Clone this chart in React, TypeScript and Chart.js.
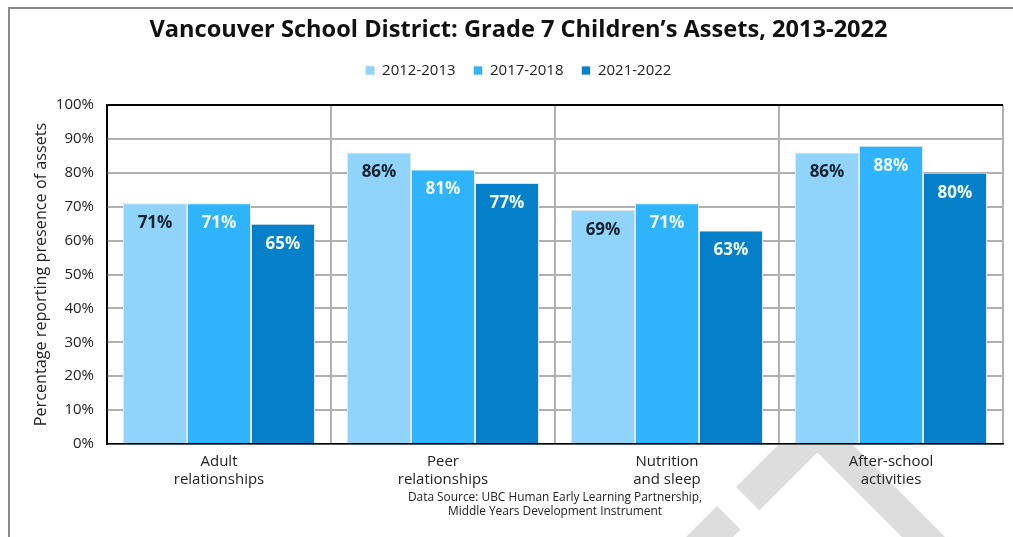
import React, { useEffect, useRef } from 'react';
import { Chart, registerables } from 'chart.js';

Chart.register(...registerables);

const chartTitle = 'Vancouver School District: Grade 7 Children\u2019s Assets, 2013-2022';
const categories = [
  ['Adult', 'relationships'],
  ['Peer', 'relationships'],
  ['Nutrition', 'and sleep'],
  ['After-school', 'activities'],
];
const seriesNames = ['2012-2013', '2017-2018', '2021-2022'];
const values2012 = [71, 86, 69, 86];
const values2017 = [71, 81, 71, 88];
const values2021 = [65, 77, 63, 80];
const seriesColors = ['#90d4fb', '#2fb4fb', '#0680c8'];
const labelColors = ['#16222e', '#eef8ff', '#eef8ff'];
const yAxisTitle = 'Percentage reporting presence of assets';
const sourceLines = ['Data Source: UBC Human Early Learning Partnership,', 'Middle Years Development Instrument'];

const FONT = "'Open Sans', 'DejaVu Sans', sans-serif";

const watermarkPlugin = {
  id: 'watermark',
  beforeDraw(chart: any) {
    const { ctx, chartArea } = chart;
    ctx.save();
    ctx.fillStyle = '#dddddd';
    ctx.beginPath();
    ctx.moveTo(736, 487);
    ctx.lineTo(815.5, 407.5);
    ctx.lineTo(945, 537);
    ctx.lineTo(902, 537);
    ctx.lineTo(817.5, 452.5);
    ctx.lineTo(759.5, 510.5);
    ctx.closePath();
    ctx.fill();
    ctx.beginPath();
    ctx.moveTo(717, 506);
    ctx.lineTo(740.5, 529.5);
    ctx.lineTo(733, 537);
    ctx.lineTo(686, 537);
    ctx.closePath();
    ctx.fill();
    ctx.fillStyle = '#ffffff';
    ctx.fillRect(chartArea.left, chartArea.top, chartArea.right - chartArea.left, chartArea.bottom - chartArea.top);
    ctx.restore();
  },
};

const valueLabelPlugin = {
  id: 'valueLabels',
  afterDatasetsDraw(chart: any) {
    const { ctx } = chart;
    ctx.save();
    ctx.font = `bold 17px ${FONT}`;
    ctx.textAlign = 'center';
    ctx.textBaseline = 'middle';
    chart.data.datasets.forEach((ds: any, di: number) => {
      const meta = chart.getDatasetMeta(di);
      meta.data.forEach((bar: any, i: number) => {
        ctx.fillStyle = labelColors[di];
        ctx.fillText(`${ds.data[i]}%`, bar.x, bar.y + 20);
      });
    });
    ctx.restore();
  },
};

export default function App() {
  const ref = useRef<HTMLCanvasElement | null>(null);

  useEffect(() => {
    if (!ref.current) return;
    const series = [values2012, values2017, values2021];
    const chart = new Chart(ref.current, {
      type: 'bar',
      data: {
        labels: categories,
        datasets: series.map((vals, i) => ({
          label: seriesNames[i],
          data: vals,
          backgroundColor: seriesColors[i],
          borderColor: '#dde6ec',
          borderWidth: 1,
          categoryPercentage: 0.857,
          barPercentage: 1.0,
        })),
      },
      options: {
        responsive: false,
        animation: false,
        layout: { padding: { left: 24, right: 0, top: 0, bottom: 18 } },
        plugins: {
          title: {
            display: true,
            text: chartTitle,
            color: '#111111',
            font: { family: FONT, size: 23.6, weight: 'bold', lineHeight: 1.2 },
            padding: { top: 16, bottom: 0.7 },
          },
          subtitle: {
            display: true,
            text: '',
            position: 'top',
            weight: 500,
            font: { size: 10, lineHeight: 1 },
            padding: { top: 7, bottom: 0 },
          },
          legend: {
            display: true,
            position: 'top',
            labels: {
              color: '#222222',
              font: { family: FONT, size: 15 },
              boxWidth: 9,
              boxHeight: 9,
              padding: 18,
            },
          },
          tooltip: { enabled: false },
        },
        scales: {
          x: {
            grid: {
              offset: true,
              drawTicks: false,
              lineWidth: 2,
              color: (c: any) => (c.index === 0 || c.index === categories.length ? '#000000' : '#b0b0b0'),
            },
            border: { display: true, color: '#000000', width: 1.5 },
            ticks: { color: '#222222', font: { family: FONT, size: 15, lineHeight: 1.2 }, padding: 9 },
            title: {
              display: true,
              text: sourceLines,
              color: '#222222',
              font: { family: FONT, size: 11.9, lineHeight: 1.18 },
              padding: { top: 0, bottom: 0 },
            },
            afterFit: (s: any) => {
              s.height = 75;
            },
          },
          y: {
            min: 0,
            max: 100,
            ticks: {
              stepSize: 10,
              color: '#222222',
              font: { family: FONT, size: 15 },
              padding: 13,
              callback: (v: any) => `${v}%`,
            },
            grid: {
              drawTicks: false,
              lineWidth: 2,
              color: (c: any) => (c.tick && c.tick.value === 100 ? '#000000' : '#b0b0b0'),
            },
            border: { display: true, color: '#000000', width: 1.5 },
            title: {
              display: true,
              text: yAxisTitle,
              color: '#222222',
              font: { family: FONT, size: 16.2, lineHeight: 1.2 },
              padding: { top: 8, bottom: 0 },
            },
            afterFit: (s: any) => {
              s.width = 83;
            },
          },
          y2: {
            position: 'right',
            display: true,
            grid: { display: false, drawTicks: false },
            border: { display: false },
            ticks: { display: false },
            afterFit: (s: any) => {
              s.width = 10;
            },
          },
        },
      },
      plugins: [watermarkPlugin, valueLabelPlugin],
    } as any);
    return () => chart.destroy();
  }, []);

  return (
    <div style={{ position: 'fixed', left: 0, top: 0, width: 1013, height: 537, background: '#ffffff', overflow: 'hidden' }}>
      <div
        style={{
          position: 'absolute',
          left: 8,
          top: 7,
          width: 1013,
          height: 537,
          borderLeft: '2px solid #8a8a8a',
          borderTop: '2px solid #8a8a8a',
        }}
      />
      <canvas ref={ref} width={1013} height={537} style={{ position: 'absolute', left: 0, top: 0, display: 'block' }} />
    </div>
  );
}
